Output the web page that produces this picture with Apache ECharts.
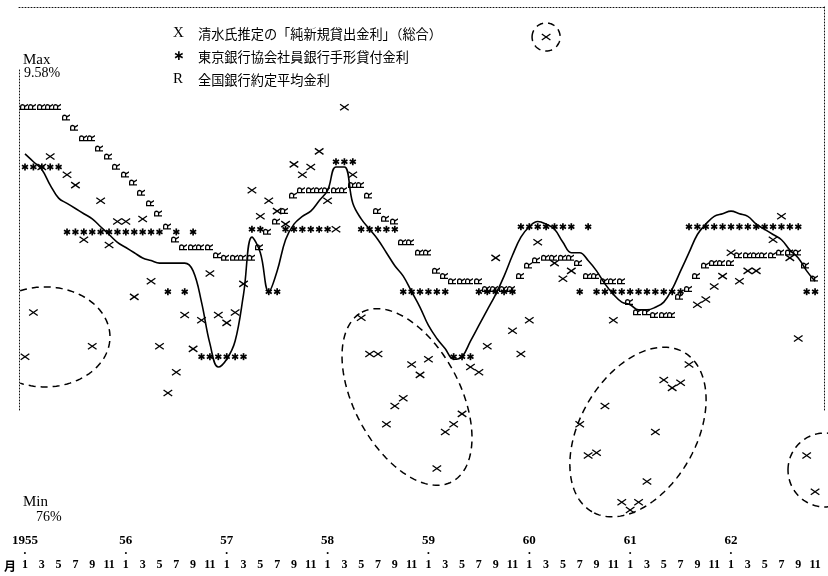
<!DOCTYPE html>
<html><head><meta charset="utf-8">
<script src="https://cdn.jsdelivr.net/npm/echarts@6.0.0/dist/echarts.min.js"></script>
<style>html,body{margin:0;padding:0;background:#fff}#c{width:828px;height:576px}</style>
</head><body><div id="c"></div>
<script>
// ---- data (monthly, Jan 1955 = index 0) ----
const yearLabels = ['1955', '56', '57', '58', '59', '60', '61', '62'];
const seriesNames = ['清水氏推定の「純新規貸出金利」（総合）', '東京銀行協会社員銀行手形貸付金利', '全国銀行約定平均金利'];
const legendMarks = ['X', '∗', 'R'];

// X : 清水氏推定の「純新規貸出金利」(総合)
const rateX = [8.35, 8.52, 9.08, 9.12, null, 9.05, 9.01, 8.80, 8.39, 8.95,
  8.78, 8.87, 8.87, 8.58, 8.88, 8.64, 8.39, 8.21, 8.29, 8.51,
  8.38, 8.49, 8.67, 8.51, 8.48, 8.52, 8.63, 8.99, 8.89, 8.95,
  8.91, 8.86, 9.09, 9.05, 9.08, 9.14, 8.95, 8.84, 9.31, 9.05,
  8.50, 8.36, 8.36, 8.09, 8.16, 8.19, 8.32, 8.28, 8.34, 7.92,
  8.06, 8.09, 8.13, 8.31, 8.29, 8.39, 8.73, null, 8.45, 8.36,
  8.49, 8.79, 9.58, 8.71, 8.65, 8.68, 8.09, 7.97, 7.98, 8.16,
  8.49, 7.79, 7.76, 7.79, 7.87, 8.06, 8.26, 8.23, 8.25, 8.32,
  8.55, 8.57, 8.62, 8.66, 8.75, 8.64, 8.68, 8.68, null, 8.80,
  8.89, 8.73, 8.42, 7.97, 7.83];

// * : 東京銀行協会社員銀行手形貸付金利
const rateStar = [9.08, 9.08, 9.08, 9.08, 9.08,
  8.83, 8.83, 8.83, 8.83, 8.83, 8.83, 8.83, 8.83, 8.83, 8.83, 8.83, 8.83,
  8.60, 8.83, 8.60, 8.83,
  8.35, 8.35, 8.35, 8.35, 8.35, 8.35,
  8.84, 8.84, 8.60, 8.60,
  8.84, 8.84, 8.84, 8.84, 8.84, 8.84,
  9.10, 9.10, 9.10,
  8.84, 8.84, 8.84, 8.84, 8.84,
  8.60, 8.60, 8.60, 8.60, 8.60, 8.60,
  8.35, 8.35, 8.35,
  8.60, 8.60, 8.60, 8.60, 8.60,
  8.85, 8.85, 8.85, 8.85, 8.85, 8.85, 8.85,
  8.60, 8.85,
  8.60, 8.60, 8.60, 8.60, 8.60, 8.60, 8.60, 8.60, 8.60, 8.60, 8.60,
  8.85, 8.85, 8.85, 8.85, 8.85, 8.85, 8.85, 8.85, 8.85, 8.85, 8.85, 8.85, 8.85, 8.85,
  8.60, 8.60];

// R : 全国銀行約定平均金利
const rateR = [9.31, 9.31, 9.31, 9.31, 9.31, 9.27, 9.23, 9.19, 9.19, 9.15,
  9.12, 9.08, 9.05, 9.02, 8.98, 8.94, 8.90, 8.85, 8.80, 8.77,
  8.77, 8.77, 8.77, 8.74, 8.73, 8.73, 8.73, 8.73, 8.77, 8.83,
  8.87, 8.91, 8.97, 8.99, 8.99, 8.99, 8.99, 8.99, 8.99, 9.01,
  9.01, 8.97, 8.91, 8.88, 8.87, 8.79, 8.79, 8.75, 8.75, 8.68,
  8.66, 8.64, 8.64, 8.64, 8.64, 8.61, 8.61, 8.61, 8.61, 8.66,
  8.70, 8.72, 8.73, 8.73, 8.73, 8.73, 8.71, 8.66, 8.66, 8.64,
  8.64, 8.64, 8.56, 8.52, 8.52, 8.51, 8.51, 8.51, 8.58, 8.61,
  8.66, 8.70, 8.71, 8.71, 8.71, 8.74, 8.74, 8.74, 8.74, 8.74,
  8.75, 8.75, 8.75, 8.70, 8.65];

// smooth trend curve
const rateCurve = [9.13, 9.10, 9.07, 9.01, 8.96, 8.94, 8.92, 8.90, 8.88, 8.85,
  8.82, 8.79, 8.77, 8.75, 8.73, 8.72, 8.71, 8.71, 8.71, 8.71,
  8.68, 8.56, 8.40, 8.31, 8.34, 8.41, 8.59, 8.81, 8.75, 8.60,
  8.68, 8.80, 8.86, 8.89, 8.91, 8.95, 8.99, 9.08, 9.08, 8.94,
  8.88, 8.84, 8.80, 8.75, 8.70, 8.66, 8.60, 8.54, 8.47, 8.42,
  8.38, 8.34, 8.35, 8.41, 8.47, 8.53, 8.59, 8.66, 8.74, 8.81,
  8.85, 8.87, 8.86, 8.84, 8.79, 8.75, 8.75, 8.72, 8.68, 8.63,
  8.59, 8.56, 8.55, 8.53, 8.53, 8.54, 8.56, 8.61, 8.68, 8.75,
  8.82, 8.86, 8.89, 8.90, 8.91, 8.90, 8.89, 8.86, 8.84, 8.82,
  8.80, 8.76, 8.73, 8.68, 8.64];

// dashed annotation loops: [centre month, centre rate, semi-axis a (months), semi-axis b (months), rotation deg]
const loops = [
  [2.38, 8.426, 7.73, 5.95, 0],
  [45.45, 8.195, 11.42, 6.31, 62],
  [72.93, 8.060, 10.95, 6.90, -60],
  [95.18, 7.914, 4.40, 4.40, 0],
  [62, 9.58, 1.67, 1.67, 0]
];

// ---- build ----
const toPairs = arr => arr.map((v, i) => [i, v]).filter(d => d[1] != null);
const evenIdx = rateR.map((v, i) => i).filter(i => i % 2 === 0);
const yearIdx = yearLabels.map((y, i) => i * 12);
const X_MIN = -0.7139, X_MAX = 95.0625, Y_MIN = 8.1448, Y_MAX = 9.6954;
const ink = '#000';
const serif = 'Liberation Serif';

function renderCross(params, api) {
  const p = api.coord([api.value(0), api.value(1)]);
  const st = { stroke: ink, lineWidth: 1.3 };
  return { type: 'group', children: [
    { type: 'line', shape: { x1: p[0] - 4.3, y1: p[1] - 3, x2: p[0] + 4.3, y2: p[1] + 3 }, style: st },
    { type: 'line', shape: { x1: p[0] - 4.3, y1: p[1] + 3, x2: p[0] + 4.3, y2: p[1] - 3 }, style: st }
  ] };
}
function renderStar(params, api) {
  const p = api.coord([api.value(0), api.value(1)]);
  const r = 3.5, ch = [];
  [90, 30, 150].forEach(a => {
    const dx = r * Math.cos(a * Math.PI / 180), dy = r * Math.sin(a * Math.PI / 180);
    ch.push({ type: 'line', shape: { x1: p[0] - dx, y1: p[1] - dy, x2: p[0] + dx, y2: p[1] + dy }, style: { stroke: ink, lineWidth: 1.7 } });
  });
  return { type: 'group', children: ch };
}
function renderR(params, api) {
  const p = api.coord([api.value(0), api.value(1)]);
  return { type: 'text', x: p[0], y: p[1], rotation: Math.PI / 2,
    style: { text: 'R', fontSize: 10, fontWeight: 'bold', fontFamily: 'Liberation Sans', fill: ink, align: 'center', verticalAlign: 'middle' } };
}
function renderLoop(params, api) {
  const c = api.coord([api.value(0), api.value(1)]);
  const a = api.size([api.value(2), 0])[0];
  const b = api.size([api.value(3), 0])[0];
  const th = api.value(4) * Math.PI / 180;
  const left = params.coordSys.x;
  const pts = [];
  for (let k = -72; k <= 72; k++) {
    const t = k * Math.PI / 72;
    const ux = a * Math.cos(t), uy = b * Math.sin(t);
    const x = c[0] + ux * Math.cos(th) - uy * Math.sin(th);
    const y = c[1] + ux * Math.sin(th) + uy * Math.cos(th);
    if (x >= left - 0.5) pts.push([x, y]);
  }
  return { type: 'polyline', shape: { points: pts },
    style: { stroke: ink, fill: null, lineWidth: 1.5, lineDash: [7, 5] } };
}

const chart = echarts.init(document.getElementById('c'));
const hiddenAxisBits = { axisTick: { show: false }, splitLine: { show: false } };
const dotted = { show: true, onZero: false, lineStyle: { color: '#111', type: [1, 2], width: 1 } };

chart.setOption({
  animation: false,
  backgroundColor: '#fff',
  textStyle: { fontFamily: serif, color: ink },
  grid: [
    { left: 19, right: 4, top: 7, height: 403 },
    { left: 19, right: 4, top: 68, height: 342 }
  ],
  xAxis: [
    Object.assign({ type: 'value', gridIndex: 0, position: 'top', min: X_MIN, max: X_MAX,
      axisLine: dotted, axisLabel: { show: false } }, hiddenAxisBits),
    Object.assign({ type: 'value', gridIndex: 0, position: 'bottom', offset: 156, min: X_MIN, max: X_MAX,
      axisLine: { show: false, onZero: false },
      name: '月', nameLocation: 'start', nameGap: 3,
      nameTextStyle: { fontFamily: 'Noto Sans CJK JP', fontSize: 12, fontWeight: 'bold', color: ink },
      axisLabel: { customValues: evenIdx, margin: -7, fontFamily: serif, fontWeight: 'bold', fontSize: 12, color: ink,
        formatter: v => String(Math.round(v) % 12 + 1) } }, hiddenAxisBits),
    Object.assign({ type: 'value', gridIndex: 0, position: 'bottom', offset: 124.5, min: X_MIN, max: X_MAX,
      axisLine: { show: false, onZero: false },
      axisLabel: { customValues: yearIdx, margin: 0, color: ink,
        formatter: v => '{y|' + yearLabels[Math.round(v / 12)] + '}\n{d|•}',
        rich: { y: { fontFamily: serif, fontWeight: 'bold', fontSize: 13, lineHeight: 13, color: ink },
                d: { fontSize: 8, lineHeight: 13, color: ink } } } }, hiddenAxisBits),
    { type: 'value', gridIndex: 1, show: false, min: 0, max: 1 }
  ],
  yAxis: [
    Object.assign({ type: 'value', gridIndex: 0, position: 'right', min: Y_MIN, max: Y_MAX,
      axisLine: dotted, axisLabel: { show: false } }, hiddenAxisBits),
    Object.assign({ type: 'value', gridIndex: 1, position: 'left', min: 0, max: 1,
      axisLine: dotted, axisLabel: { show: false } }, hiddenAxisBits)
  ],
  legend: {
    data: seriesNames, orient: 'vertical', left: 162, top: 21,
    itemWidth: 1, itemHeight: 14, itemGap: 8.5, icon: 'rect', selectedMode: false,
    itemStyle: { opacity: 0 },
    formatter: name => {
      const i = seriesNames.indexOf(name);
      return '{' + (i === 1 ? 's' : 'm') + '|' + legendMarks[i] + '}{t|' + name + '}';
    },
    textStyle: { rich: {
      m: { width: 25, fontFamily: serif, fontSize: 15, color: ink },
      s: { width: 25, fontFamily: 'DejaVu Sans', fontWeight: 'bold', fontSize: 14, color: ink },
      t: { fontFamily: 'Noto Sans CJK JP', fontSize: 13.2, color: ink }
    } }
  },
  graphic: [
    { type: 'text', left: 23, top: 53, style: { text: 'Max', fontFamily: serif, fontSize: 15, fill: ink } },
    { type: 'text', left: 24, top: 66, style: { text: '9.58%', fontFamily: serif, fontSize: 14, fill: ink } },
    { type: 'text', left: 23, top: 495, style: { text: 'Min', fontFamily: serif, fontSize: 15, fill: ink } },
    { type: 'text', left: 36, top: 510, style: { text: '76%', fontFamily: serif, fontSize: 14, fill: ink } }
  ],
  series: [
    { type: 'line', name: 'trend', xAxisIndex: 1, yAxisIndex: 0, data: toPairs(rateCurve),
      smooth: 0.4, symbol: 'none', lineStyle: { color: ink, width: 1.6 }, z: 2 },
    { type: 'custom', name: seriesNames[0], xAxisIndex: 1, yAxisIndex: 0, color: ink,
      data: toPairs(rateX), renderItem: renderCross, encode: { x: 0, y: 1 }, z: 3 },
    { type: 'custom', name: seriesNames[1], xAxisIndex: 1, yAxisIndex: 0, color: ink,
      data: toPairs(rateStar), renderItem: renderStar, encode: { x: 0, y: 1 }, z: 3 },
    { type: 'custom', name: seriesNames[2], xAxisIndex: 1, yAxisIndex: 0, color: ink,
      data: toPairs(rateR), renderItem: renderR, encode: { x: 0, y: 1 }, z: 3 },
    { type: 'custom', name: 'loops', xAxisIndex: 1, yAxisIndex: 0,
      data: loops, renderItem: renderLoop, encode: { x: 0, y: 1 }, z: 1 }
  ]
});
</script>
</body></html>
